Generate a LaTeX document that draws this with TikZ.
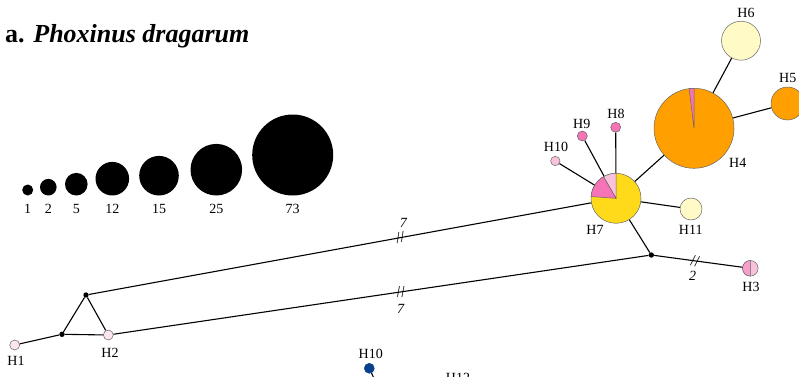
\documentclass[tikz,border=0pt]{standalone}
\usepackage{fontspec}
\setmainfont{Liberation Serif}
\definecolor{hapOrange}{RGB}{255,160,0}
\definecolor{hapPale}{RGB}{255,250,198}
\definecolor{hapGold}{RGB}{255,218,26}
\definecolor{hapHot}{RGB}{246,115,183}
\definecolor{hapPink}{RGB}{245,160,203}
\definecolor{hapLight}{RGB}{249,194,219}
\definecolor{hapFaint}{RGB}{252,228,240}
\definecolor{hapBlue}{RGB}{10,63,140}
\begin{document}
\begin{tikzpicture}[x=1pt,y=1pt,
  hap/.style={circle,draw=black!60,line width=.5,inner sep=0,minimum size=#1},
  legdot/.style={circle,fill=black,inner sep=0,minimum size=#1},
  jn/.style={circle,fill=black,inner sep=0,minimum size=5.4},
  lbl/.style={font=\fontsize{14}{16}\selectfont,inner sep=0},
  brk/.style={font=\fontsize{16}{18}\selectfont,inner sep=0,sloped},
  edge/.style={line width=1.1}]
  \useasboundingbox (0,0) rectangle (799,376);
  \node[anchor=base west,inner sep=0,font=\fontsize{26}{30}\selectfont\bfseries]
    (title) at (5,334) {a. \textit{Phoxinus dragarum}};
  % legend of sample sizes
  \foreach \cx/\r/\n in {27.7/5.5/1,48.3/8.3/2,76.3/11.3/5,112.3/16.8/12,
                         159/19.8/15,216.3/25.8/25,292.7/40.5/73} {
    \node[legdot=2*\r] (L\n) at (\cx,180.5+\r) {};
    \node[lbl] (l\n) at (\cx,167) {\n};
  }
  % haplotypes
  \node[hap=39,fill=hapPale] (H6) at (741,335.3) {};
  \node[hap=33,fill=hapOrange] (H5) at (787.5,272.5) {};
  \node[hap=80,fill=hapOrange] (H4) at (694,247.7) {};
  \node[hap=10,fill=hapHot] (H8) at (615.7,248.7) {};
  \node[hap=10,fill=hapHot] (H9) at (582.3,240) {};
  \node[hap=9.4,fill=hapLight] (H10a) at (555.3,215) {};
  \node[hap=50,fill=hapGold] (H7) at (616,177.7) {};
  \node[hap=22,fill=hapPale] (H11) at (691,167) {};
  \node[hap=15.6,fill=hapLight] (H3) at (750.3,107.7) {};
  \node[hap=10,fill=hapFaint] (H1) at (14.7,31) {};
  \node[hap=10,fill=hapFaint] (H2) at (108.3,41) {};
  \node[hap=10,fill=hapBlue,draw=hapBlue] (H10b) at (369.3,7.7) {};
  \node[jn] (jA) at (86,81) {};
  \node[jn] (jB) at (62,41.7) {};
  \node[jn] (jC) at (651.3,121) {};
  \coordinate (tail) at (384,-24);
  % pie slices
  \filldraw[fill=hapLight,draw=black!60,line width=.5] (H7.center) -- ++(90:25)
    arc[start angle=90,end angle=120,radius=25] -- cycle;
  \filldraw[fill=hapHot,draw=black!60,line width=.5] (H7.center) -- ++(120:25)
    arc[start angle=120,end angle=176,radius=25] -- cycle;
  \filldraw[fill=hapHot,draw=black!60,line width=.5] (H4.center) -- ++(90:40)
    arc[start angle=90,end angle=97,radius=40] -- cycle;
  \filldraw[fill=hapPink,draw=black!60,line width=.5] (H3.center) -- ++(90:7.8)
    arc[start angle=90,end angle=270,radius=7.8] -- cycle;
  % connections
  \draw[edge] (H1) -- (jB);
  \draw[edge] (jB) -- (jA);
  \draw[edge] (jA) -- (H2);
  \draw[edge] (jB) -- (H2);
  \draw[edge] (jA) -- node[brk,pos=.62] (k1) {//} (H7);
  \draw[edge] (H2) -- node[brk,pos=.537] (k2) {//} (jC);
  \draw[edge] (jC) -- (H7);
  \draw[edge] (jC) -- node[brk,pos=.465] (k3) {//} (H3);
  \draw[edge] (H7) -- (H4);
  \draw[edge] (H4) -- (H6);
  \draw[edge] (H4) -- (H5);
  \draw[edge] (H7) -- (H8);
  \draw[edge] (H7) -- (H9);
  \draw[edge] (H7) -- (H10a);
  \draw[edge] (H7) -- (H11);
  \draw[edge] (H10b) -- (tail);
  \node[lbl,font=\fontsize{14}{16}\selectfont\itshape] (n1) at (403.3,153.3) {7};
  \node[lbl,font=\fontsize{14}{16}\selectfont\itshape] (n2) at (400.7,67) {7};
  \node[lbl,font=\fontsize{14}{16}\selectfont\itshape] (n3) at (692.7,100.3) {2};
  % haplotype names
  \node[lbl] (tH6) at (746,363.3) {H6};
  \node[lbl] (tH5) at (787.7,297.7) {H5};
  \node[lbl] (tH4) at (737.7,212.7) {H4};
  \node[lbl] (tH8) at (616,262) {H8};
  \node[lbl] (tH9) at (581.7,252) {H9};
  \node[lbl] (tH10a) at (556,228.7) {H10};
  \node[lbl] (tH7) at (595,146) {H7};
  \node[lbl] (tH11) at (690.7,146) {H11};
  \node[lbl] (tH3) at (751,89.3) {H3};
  \node[lbl] (tH1) at (16,15.3) {H1};
  \node[lbl] (tH2) at (110,22.7) {H2};
  \node[lbl] (tH10b) at (370.7,22) {H10};
  \node[lbl] (tH12) at (458,-2.3) {H12};
\end{tikzpicture}
\end{document}
